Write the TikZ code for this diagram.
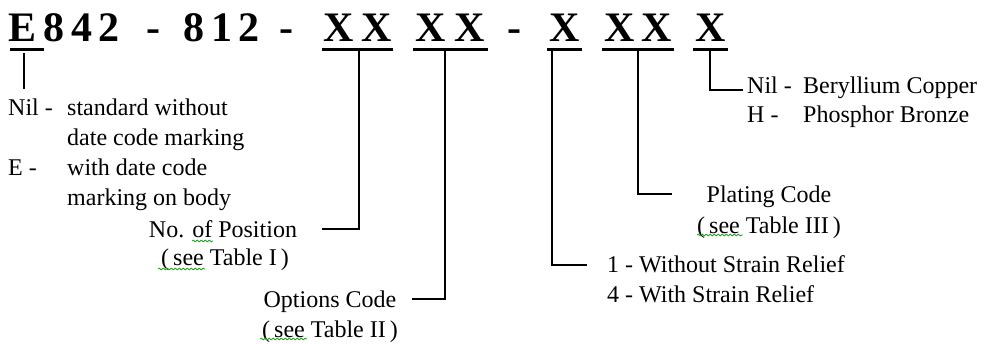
\documentclass[tikz,border=0pt]{standalone}
\usepackage{fontspec}
\setmainfont{Liberation Serif}
\usetikzlibrary{decorations.pathmorphing}
\definecolor{spell}{RGB}{40,160,40}
\tikzset{
 ttl/.style={font=\fontsize{42}{42}\selectfont\bfseries, anchor=base, inner sep=0pt},
 lbl/.style={font=\fontsize{24}{30}\selectfont, anchor=base west, inner sep=0pt},
 ctr/.style={font=\fontsize{24}{30}\selectfont, anchor=base, inner sep=0pt},
 ubar/.style={fill=black, inner sep=0pt, minimum height=3pt},
 conn/.style={line width=1.5pt},
 squig/.style={spell, line width=0.8pt, decorate, decoration={snake, amplitude=0.9pt, segment length=4pt}},
}
\begin{document}
\begin{tikzpicture}[x=1pt,y=-1pt]
\useasboundingbox (0,0) rectangle (985,343);
\fill[white] (0,0) rectangle (985,343);
% title characters
\foreach \n/\x/\c in {t1/23/E, t2/54/8, t3/81.5/4, t4/109/2, t5/153.5/-, t6/194/8, t7/221.5/1, t8/249/2, t9/286.5/-, t10/338.5/X, t11/376.5/X, t12/430.5/X, t13/470/X, t14/514/-, t15/564.5/X, t16/619.5/X, t17/656.5/X, t18/710.5/X}
  \node[ttl] (\n) at (\x,41) {\c};
% underlines
\node[ubar, minimum width=34pt] (u1) at (27,49) {};
\node[ubar, minimum width=71pt] (u2) at (357.5,49) {};
\node[ubar, minimum width=75pt] (u3) at (450.5,49) {};
\node[ubar, minimum width=35pt] (u4) at (564.5,49) {};
\node[ubar, minimum width=72pt] (u5) at (638,49) {};
\node[ubar, minimum width=35pt] (u6) at (710.5,49) {};
% texts
\node[lbl] (a1) at (8,115) {Nil -};
\node[lbl] (a2) at (67,115) {standard without};
\node[lbl] (a3) at (67,145) {date code marking};
\node[lbl] (a4) at (8,175) {E -};
\node[lbl] (a5) at (67,175) {with date code};
\node[lbl] (a6) at (67,205) {marking on body};
\node[ctr] (b1) at (223,237) {No. of Position};
\node[ctr] (b2) at (225,265) {(\,see Table I\,)};
\node[ctr] (c1) at (330,307) {Options Code};
\node[ctr] (c2) at (330,337) {(\,see Table II\,)};
\node[lbl] (d1) at (607,272) {1 - Without Strain Relief};
\node[lbl] (d2) at (607,302) {4 - With Strain Relief};
\node[ctr] (p1) at (769,202) {Plating Code};
\node[ctr] (p2) at (769,233) {(\,see Table III\,)};
\node[lbl] (n1) at (747,93) {Nil -};
\node[lbl] (n2) at (803,93) {Beryllium Copper};
\node[lbl] (n3) at (747,122) {H -};
\node[lbl] (n4) at (803,122) {Phosphor Bronze};
% connector coordinates
\coordinate (k1a) at (24,53); \coordinate (k1b) at (24,89);
\coordinate (k2) at (359,229); \coordinate (e2) at (322,229);
\coordinate (k3) at (445,299); \coordinate (e3) at (412,299);
\coordinate (k4) at (552,265); \coordinate (e4) at (587,265);
\coordinate (k5) at (638,194); \coordinate (e5) at (672,194);
\coordinate (k6) at (710,90);  \coordinate (e6) at (743,90);
% connectors
\draw[conn] (k1a) -- (k1b);
\draw[conn] (u2.center -| k2) -- (k2) -- (e2);
\draw[conn] (u3.center -| k3) -- (k3) -- (e3);
\draw[conn] (u4.center -| k4) -- (k4) -- (e4);
\draw[conn] (u5.center -| k5) -- (k5) -- (e5);
\draw[conn] (u6.center -| k6) -- (k6) -- (e6);
% spell-check squiggles
\draw[squig] (192,241) -- (213,241);
\draw[squig] (158,269) -- (205,269);
\draw[squig] (260,339) -- (307,339);
\draw[squig] (697,235) -- (743,235);
\end{tikzpicture}
\end{document}
